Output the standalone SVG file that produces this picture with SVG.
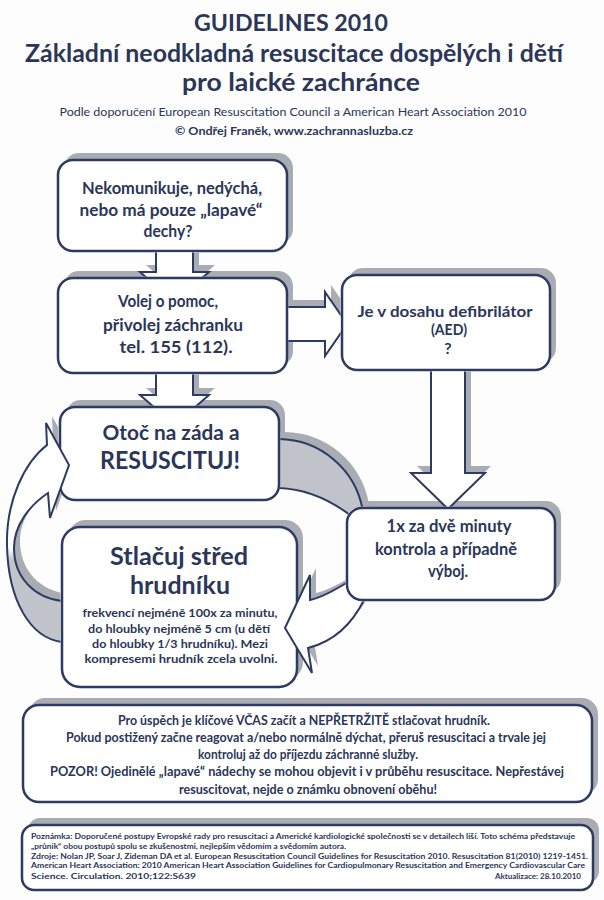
<svg xmlns="http://www.w3.org/2000/svg" width="604" height="900" viewBox="0 0 604 900">
<style>
.bx{fill:#fff;stroke:#2d3a62;stroke-width:2.5}
.sh{fill:#a9acb2}
.cn{fill:#fff;stroke:#2d3a62;stroke-width:2;stroke-linejoin:miter}
.t{font-family:Lato,"Open Sans","Liberation Sans",sans-serif;font-weight:700;fill:#2b3658;text-anchor:middle}
.r{font-weight:400}
.l{text-anchor:start}
.e{text-anchor:end}
</style>
<defs>
<linearGradient id="gC" gradientUnits="userSpaceOnUse" x1="0" y1="548" x2="0" y2="560">
<stop offset="0" stop-color="#fff"/><stop offset="1" stop-color="#c1c4ca"/>
</linearGradient>
<rect id="h1" x="56.5" y="158.5" width="232" height="94" rx="16.5" fill="#000"/>
<rect id="h2" x="56.5" y="276.5" width="232" height="98" rx="16.5" fill="#000"/>
<rect id="h3" x="340.5" y="273.5" width="211" height="98" rx="16.5" fill="#000"/>
<rect id="h4" x="345.5" y="506.5" width="211" height="95" rx="16.5" fill="#000"/>
<rect id="h5" x="58.5" y="405.5" width="222" height="96" rx="16.5" fill="#000"/>
<rect id="h6" x="60.5" y="525.5" width="238" height="163" rx="19.5" fill="#000"/>
<mask id="mAll" maskUnits="userSpaceOnUse" x="0" y="0" width="604" height="900">
<rect width="604" height="900" fill="#fff"/>
<use href="#h1"/><use href="#h2"/><use href="#h3"/><use href="#h4"/><use href="#h5"/><use href="#h6"/>
</mask>
<mask id="mB" maskUnits="userSpaceOnUse" x="0" y="0" width="604" height="900">
<rect width="604" height="900" fill="#fff"/>
<use href="#h4"/>
</mask>
<mask id="mC" maskUnits="userSpaceOnUse" x="0" y="0" width="604" height="900">
<rect width="604" height="900" fill="#fff"/>
<use href="#h6"/>
</mask>
</defs>
<rect width="604" height="900" fill="#fdfdfd"/>

<g id="title">
<text class="t" x="291" y="31" font-size="22" textLength="194" lengthAdjust="spacingAndGlyphs">GUIDELINES 2010</text>
<text class="t" x="294" y="62" font-size="24" textLength="538" lengthAdjust="spacingAndGlyphs">Základní neodkladná resuscitace dospělých i dětí</text>
<text class="t" x="301" y="91" font-size="24" textLength="238" lengthAdjust="spacingAndGlyphs">pro laické zachránce</text>
<text class="t r" x="293" y="116" font-size="12" textLength="467" lengthAdjust="spacingAndGlyphs">Podle doporučení European Resuscitation Council a American Heart Association 2010</text>
<text class="t" x="294" y="135" font-size="12" textLength="238" lengthAdjust="spacingAndGlyphs">© Ondřej Franěk, www.zachrannasluzba.cz</text>
</g>

<g id="n1">
<rect class="sh" x="64" y="153" width="229" height="91" rx="15"/>
<rect class="bx" x="58" y="160" width="229" height="91" rx="15"/>
<text class="t" x="172" y="194" font-size="17" textLength="180" lengthAdjust="spacingAndGlyphs">Nekomunikuje, nedýchá,</text>
<text class="t" x="171" y="216" font-size="17" textLength="183" lengthAdjust="spacingAndGlyphs">nebo má pouze „lapavé“</text>
<text class="t" x="168" y="237" font-size="17" textLength="49" lengthAdjust="spacingAndGlyphs">dechy?</text>
</g>

<g id="n2">
<rect class="sh" x="64" y="271" width="229" height="95" rx="15"/>
<rect class="bx" x="58" y="278" width="229" height="95" rx="15"/>
<text class="t" x="168" y="307" font-size="17" textLength="100" lengthAdjust="spacingAndGlyphs">Volej o pomoc,</text>
<text class="t" x="173" y="331" font-size="17" textLength="140" lengthAdjust="spacingAndGlyphs">přivolej záchranku</text>
<text class="t" x="176" y="353" font-size="17" textLength="113" lengthAdjust="spacingAndGlyphs">tel. 155 (112).</text>
</g>

<g id="n3">
<rect class="sh" x="348" y="268" width="208" height="95" rx="15"/>
<rect class="bx" x="342" y="275" width="208" height="95" rx="15"/>
<text class="t" x="445" y="317" font-size="16" textLength="175" lengthAdjust="spacingAndGlyphs">Je v dosahu defibrilátor</text>
<text class="t" x="449" y="335" font-size="16" textLength="36" lengthAdjust="spacingAndGlyphs">(AED)</text>
<text class="t" x="448" y="354" font-size="16">?</text>
</g>

<g id="n4">
<rect class="sh" x="353" y="501" width="208" height="92" rx="15"/>
<rect class="bx" x="347" y="508" width="208" height="92" rx="15"/>
<text class="t" x="449" y="532" font-size="16.5" textLength="125" lengthAdjust="spacingAndGlyphs">1x za dvě minuty</text>
<text class="t" x="446" y="555" font-size="16.5" textLength="142" lengthAdjust="spacingAndGlyphs">kontrola a případně</text>
<text class="t" x="448" y="577" font-size="16.5" textLength="40" lengthAdjust="spacingAndGlyphs">výboj.</text>
</g>

<g id="n5">
<rect class="sh" x="66" y="400" width="219" height="93" rx="15"/>
<rect class="bx" x="60" y="407" width="219" height="93" rx="15"/>
<text class="t" x="171" y="440" font-size="20" textLength="137" lengthAdjust="spacingAndGlyphs">Otoč na záda a</text>
<text class="t" x="170" y="469" font-size="24" textLength="140" lengthAdjust="spacingAndGlyphs">RESUSCITUJ!</text>
</g>

<g id="n6">
<rect class="sh" x="68" y="520" width="235" height="160" rx="18"/>
<rect class="bx" x="62" y="527" width="235" height="160" rx="18"/>
<text class="t" x="179" y="565" font-size="24" textLength="138" lengthAdjust="spacingAndGlyphs">Stlačuj střed</text>
<text class="t" x="180" y="594" font-size="24" textLength="100" lengthAdjust="spacingAndGlyphs">hrudníku</text>
<text class="t" x="180" y="617" font-size="12" textLength="195" lengthAdjust="spacingAndGlyphs">frekvencí nejméně 100x za minutu,</text>
<text class="t" x="179" y="633" font-size="12" textLength="182" lengthAdjust="spacingAndGlyphs">do hloubky nejméně 5 cm (u dětí</text>
<text class="t" x="180" y="648" font-size="12" textLength="176" lengthAdjust="spacingAndGlyphs">do hloubky 1/3 hrudníku). Mezi</text>
<text class="t" x="181" y="663" font-size="12" textLength="193" lengthAdjust="spacingAndGlyphs">kompresemi hrudník zcela uvolni.</text>
</g>

<g id="n7">
<rect class="sh" x="29" y="698" width="569" height="97" rx="16"/>
<rect class="bx" x="23" y="705" width="569" height="97" rx="16"/>
<text class="t" x="304" y="725" font-size="12.5" textLength="372" lengthAdjust="spacingAndGlyphs">Pro úspěch je klíčové VČAS začít a NEPŘETRŽITĚ stlačovat hrudník.</text>
<text class="t" x="306" y="742" font-size="12.5" textLength="480" lengthAdjust="spacingAndGlyphs">Pokud postižený začne reagovat a/nebo normálně dýchat, přeruš resuscitaci a trvale jej</text>
<text class="t" x="308" y="759" font-size="12.5" textLength="220" lengthAdjust="spacingAndGlyphs">kontroluj až do příjezdu záchranné služby.</text>
<text class="t" x="307" y="776" font-size="12.5" textLength="514" lengthAdjust="spacingAndGlyphs">POZOR! Ojedinělé „lapavé“ nádechy se mohou objevit i v průběhu resuscitace. Nepřestávej</text>
<text class="t" x="308" y="794" font-size="12.5" textLength="258" lengthAdjust="spacingAndGlyphs">resuscitovat, nejde o známku obnovení oběhu!</text>
</g>

<g id="n8">
<rect class="sh" x="28" y="818" width="571" height="65" rx="12"/>
<rect class="bx" x="22" y="825" width="571" height="65" rx="12"/>
<text class="t l" x="31" y="839" font-size="8" textLength="544" lengthAdjust="spacingAndGlyphs">Poznámka: Doporučené postupy Evropské rady pro resuscitaci a Americké kardiologické společnosti se v detailech liší. Toto schéma představuje</text>
<text class="t l" x="31" y="849" font-size="8" textLength="315" lengthAdjust="spacingAndGlyphs">„průnik“ obou postupů spolu se zkušenostmi, nejlepším vědomím a svědomím autora.</text>
<text class="t l" x="31" y="859" font-size="8" textLength="557" lengthAdjust="spacingAndGlyphs">Zdroje: Nolan JP, Soar J, Zideman DA et al. European Resuscitation Council Guidelines for Resuscitation 2010. Resuscitation 81(2010) 1219-1451.</text>
<text class="t l" x="31" y="868" font-size="8" textLength="554" lengthAdjust="spacingAndGlyphs">American Heart Association: 2010 American Heart Association Guidelines for Cardiopulmonary Resuscitation and Emergency Cardiovascular Care</text>
<text class="t l" x="31" y="879" font-size="8" textLength="165" lengthAdjust="spacingAndGlyphs">Science. Circulation. 2010;122:S639</text>
<text class="t e" x="581" y="879" font-size="8">Aktualizace: 28.10.2010</text>
</g>

<g id="connectors">
<g mask="url(#mAll)">
<g class="sh" transform="translate(6,-7)">
<path d="M156,240 L193,240 L193,272 L209,272 L174.5,302 L140,272 L156,272 Z"/>
<path d="M156,365 L193,365 L193,395 L209,395 L174.5,425 L140,395 L156,395 Z"/>
<path d="M280,307 L325,307 L325,292 L347,324 L325,356 L325,341 L280,341 Z"/>
<path d="M431,365 L465,365 L465,473 L485,473 L448,509 L411,473 L431,473 Z"/>
<path d="M265,439 L279,439 A86,86 0 0 1 362.7,510 L362,530 L355,530 L350,515 C330,500 305,489 279,488 L265,488 Z"/>
<path d="M360,580 L348,582 C335,590 320,598 310,600 L310,575 L285,628 L312,673 L308,648 C332,642 352,625 365,598 Z"/>
<path d="M75,642 L62,642 C30,638 8,600 7,545 C6,500 25,462 47,445 L46,423 L69,465 L50,518 L48,493 C30,505 14,525 14,548 C14,578 35,598 62,601 L75,601 Z"/>
</g>
<path id="ringA" d="M265,439 L279,439 A86,86 0 0 1 362.7,510 L362,530 L355,530 L350,515 C330,500 305,489 279,488 L265,488 Z" fill="#c0c3c9" stroke="#2d3a62" stroke-width="2"/>
<path id="a1" class="cn" d="M156,240 L193,240 L193,272 L209,272 L174.5,302 L140,272 L156,272 Z"/>
<path id="a2" class="cn" d="M156,365 L193,365 L193,395 L209,395 L174.5,425 L140,395 L156,395 Z"/>
<path id="a3" class="cn" d="M280,307 L325,307 L325,292 L347,324 L325,356 L325,341 L280,341 Z"/>
<path id="a4" class="cn" d="M431,365 L465,365 L465,473 L485,473 L448,509 L411,473 L431,473 Z"/>
</g>
<g mask="url(#mB)">
<path id="ringB" class="cn" d="M360,580 L348,582 C335,590 320,598 310,600 L310,575 L285,628 L312,673 L308,648 C332,642 352,625 365,598 Z"/>
</g>
<g mask="url(#mC)">
<path id="ringC" d="M75,642 L62,642 C30,638 8,600 7,545 C6,500 25,462 47,445 L46,423 L69,465 L50,518 L48,493 C30,505 14,525 14,548 C14,578 35,598 62,601 L75,601 Z" fill="url(#gC)" stroke="#2d3a62" stroke-width="2"/>
</g>
</g>
</svg>
